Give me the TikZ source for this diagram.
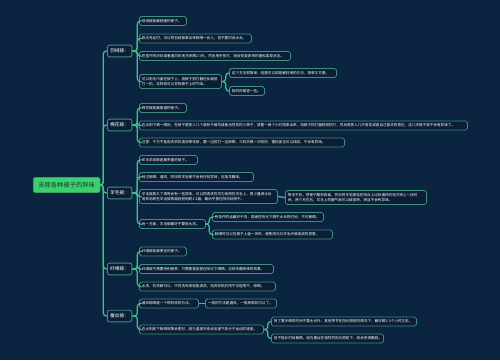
\documentclass[tikz,border=0pt]{standalone}
\usepackage{fontspec}
\newfontfamily\cjk{Noto Sans CJK SC}
\definecolor{bgc}{HTML}{0B2440}
\definecolor{leaffill}{HTML}{0A1E35}
\definecolor{bordc}{HTML}{3F8F80}
\definecolor{linec}{HTML}{43C088}
\definecolor{rootfill}{HTML}{3DD070}
\definecolor{roottext}{HTML}{163A28}
\begin{document}
\begin{tikzpicture}[x=1pt,y=-1pt,
  leaf/.style={draw=bordc, fill=leaffill, rounded corners=1.8pt, line width=0.8pt, text=white,
    font=\cjk\fontsize{3.6}{5}\selectfont, inner xsep=2.5pt, inner ysep=2.8pt, anchor=west, align=left},
  mid/.style={draw=bordc, fill=leaffill, rounded corners=2pt, line width=0.9pt, text=white,
    font=\cjk\fontsize{4.8}{6}\selectfont, inner xsep=2.6pt, inner ysep=3.6pt, anchor=west},
  rootbox/.style={draw=rootfill!80!black, fill=rootfill, rounded corners=2pt, line width=0.6pt, text=roottext,
    font=\cjk\fontsize{6.3}{7}\selectfont, inner xsep=5pt, inner ysep=4.6pt, anchor=west},
  conn/.style={draw=linec, line width=1.2pt, rounded corners=3pt},
]
\useasboundingbox (0,0) rectangle (500,360);
\fill[bgc] (0,0) rectangle (500,360);

% root
\node[rootbox] (root) at (33,185) {去除各种被子的异味};

% level 2
\node[mid] (yr) at (107,51) {羽绒被：};
\node[mid] (mh) at (107,125) {棉花被：};
\node[mid] (ym) at (107,193) {羊毛被：};
\node[mid] (xw) at (107,269) {纤维被：};
\node[mid] (cs) at (107,316) {蚕丝被：};

% 羽绒被
\node[leaf, text width=42pt] (yr1) at (139,21) {羽绒被是最轻暖的被子。};
\node[leaf, text width=107pt] (yr2) at (139,38.5) {阳光充足时，可以将羽绒被拿出来晾晒一会儿，但不要时间太长。};
\node[leaf, text width=146pt] (yr3) at (139,56) {在室外阴凉处或者通风的地方晾晒2-3天，然后用手拍打，就会恢复原来的蓬松柔软状态。};
\node[leaf, text width=77pt] (yr4) at (139,81.5) {可以用毛巾盖在被子上，用被子拍打器在反面拍\\打一拍，这样就可以去除被子上的气味。};
\node[leaf, text width=102pt] (yr4a) at (229,73) {这个方法很简单，但是可以说是最好用的方法，简单又方便。};
\node[leaf, text width=30pt] (yr4b) at (229,91) {拍的时候轻一些。};

% 棉花被
\node[leaf, text width=42pt] (mh1) at (139,108) {棉花被是最普通的被子。};
\node[leaf, text width=323pt] (mh2) at (139,125.5) {在太阳下晒一晒后，在被子里放入几个装有干燥剂或者活性炭的小袋子，放置一两个小时再拿出来，用被子拍打器轻轻拍打，然后再放入几片香皂或者自己喜欢的香包，这几天被子就不会有异味了。};
\node[leaf, text width=200pt] (mh3) at (139,142.5) {注意：千万不能用洗衣机清洗棉花被，要一边拍打一边晾晒，三四天晒一次就好，蓬松度也可以找回，不会有异味。};

% 羊毛被
\node[leaf, text width=53pt] (ym1) at (139,160) {羊毛羊绒被是最贵重的被子。};
\node[leaf, text width=109pt] (ym2) at (139,177) {经过晾晒、通风，阴凉的羊毛被不会有任何异味，包括羊膻味。};
\node[leaf, text width=133pt] (ym3) at (139,196.5) {羊毛被放久了难免会有一些异味，可以把清洗剂均匀地喷在羊毛上，再少量洒水后\\用软毛刷在羊毛被表面轻轻地刷1-2遍，最后平放在阴凉处晾干。};
\node[leaf, text width=136pt] (ym3a) at (285,197.5) {等毛干后，把被子翻到背面，然后将羊毛被挂在阳台上比较通风的地方晾上一段时\\间，两个月左右，羊毛上的膻气就可以被清除，而且不会有异味。};
\node[leaf, text width=61pt] (ym4) at (139,224) {另一方面，羊毛被最好不要用水洗。};
\node[leaf, text width=106pt] (ym4a) at (212,217) {有条件的话最好干洗，或者在阳光下晒不太长的时间，不可暴晒。};
\node[leaf, text width=115pt] (ym4b) at (212,234.5) {晾晒时可以在被子上盖一块布，避免阳光对羊毛纤维造成的损害。};

% 纤维被
\node[leaf, text width=42pt] (xw1) at (139,251.5) {纤维被是最便宜的被子。};
\node[leaf, text width=129pt] (xw2) at (139,269) {纤维被不需要特别保养，只需要直接放在阳光下晒晒，达到杀菌除味的效果。};
\node[leaf, text width=131pt] (xw3) at (139,286.5) {水洗、机洗都可以，中性洗衣液就能清洗，用洗衣机的甩干功能甩干，晾晒。};

% 蚕丝被
\node[leaf, text width=54pt] (cs1) at (139,303.5) {通风晾晒是一个很有效的办法。};
\node[leaf, text width=66pt] (cs1a) at (205,303.5) {一般的方法是通风，一般两周就可以了。};
\node[leaf, text width=119pt] (cs2) at (139,329.5) {在太阳底下晾晒效果会更好，因为温度升高会加速气体分子运动的速度。};
\node[leaf, text width=140pt] (cs2a) at (271,321.5) {除了夏天晒的时间不要太长外，其他季节在阳光照射的情况下，最好晒2-3个小时左右。};
\node[leaf, text width=107pt] (cs2b) at (271,338.5) {但不能长时间暴晒，因为蚕丝在强烈的阳光照射下，就会变得脆弱。};

% connectors level 1
\foreach \c in {yr,mh,ym,xw,cs} \draw[conn] (root.east) -- ++(3,0) |- (\c.west);
% level 2 -> 3
\foreach \c in {yr1,yr2,yr3,yr4} \draw[conn] (yr.east) -- ++(5,0) |- (\c.west);
\foreach \c in {mh1,mh2,mh3} \draw[conn] (mh.east) -- ++(5,0) |- (\c.west);
\foreach \c in {ym1,ym2,ym3,ym4} \draw[conn] (ym.east) -- ++(5,0) |- (\c.west);
\foreach \c in {xw1,xw2,xw3} \draw[conn] (xw.east) -- ++(5,0) |- (\c.west);
\foreach \c in {cs1,cs2} \draw[conn] (cs.east) -- ++(5,0) |- (\c.west);
% level 3 -> 4
\foreach \c in {yr4a,yr4b} \draw[conn] (yr4.east) -- ++(4,0) |- (\c.west);
\draw[conn] (ym3.east) -- (ym3a.west);
\foreach \c in {ym4a,ym4b} \draw[conn] (ym4.east) -- ++(3.5,0) |- (\c.west);
\draw[conn] (cs1.east) -- (cs1a.west);
\foreach \c in {cs2a,cs2b} \draw[conn] (cs2.east) -- ++(4,0) |- (\c.west);
\end{tikzpicture}
\end{document}
